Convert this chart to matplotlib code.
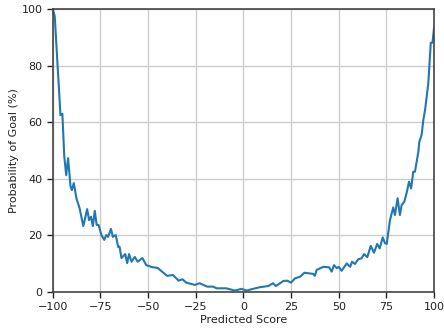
import matplotlib
matplotlib.use("Agg")
import matplotlib.pyplot as plt

# Predicted score vs. observed goal probability
score = [-100, -99, -96, -95, -94, -93, -92, -90.7, -90, -89, -87.6, -86, -84,
         -82, -81, -80, -79, -78, -77, -76, -74.5, -73, -72, -71, -69.5, -68.5,
         -67, -65.7, -65, -64, -62, -61, -60, -58.7, -57, -55.5, -53, -51, -48,
         -45, -42, -40, -37, -34, -32, -30, -25.5, -23, -19, -16, -14, -9, -4.5,
         -1, 1.7, 5, 8.7, 13, 15.6, 17, 21, 23, 25, 27, 29.7, 32, 36.6, 37.5,
         38.4, 42, 45, 46.3, 47.5, 49, 50, 51.5, 53, 54.2, 56, 57, 58.5, 60.3,
         62, 63.3, 65, 66.8, 68.5, 70.2, 71.5, 73.1, 74.3, 75.2, 76.9, 78.6,
         79.5, 80.9, 82.1, 83, 84.4, 85.6, 86.9, 88, 89.1, 90, 91.8, 92.3, 93.5,
         94.4, 95.3, 97, 98.3, 99.2, 100]
prob = [100, 97.5, 62.5, 63, 48, 41.3, 47.3, 37.2, 36, 38.5, 33, 29.7, 23.3,
        29.3, 25.4, 26.6, 23.3, 28.7, 23.7, 23.7, 20.1, 18.4, 20.1, 19.5, 22.3,
        19.5, 20.1, 15.9, 16, 12, 13.4, 10.2, 13.4, 10.7, 12.4, 10.7, 12, 9.5,
        8.8, 8.5, 6.8, 5.7, 6.0, 4.0, 4.5, 3.3, 2.5, 3.1, 1.9, 1.9, 1.3, 1.3,
        0.5, 1.1, 0.5, 1.1, 1.7, 2.1, 3.1, 2.1, 3.9, 4.0, 3.3, 4.8, 5.4, 6.8,
        6.4, 5.7, 7.8, 8.9, 8.7, 7.2, 9.5, 8.4, 8.9, 7.5, 8.9, 10.1, 8.9, 10.7,
        9.9, 11.6, 11.9, 13.4, 12.3, 16.3, 13.9, 17.0, 15.4, 19.3, 17.2, 17.0,
        25.4, 29.9, 27.2, 33.1, 27.2, 30.7, 31.9, 34.9, 39, 36.6, 42.5, 42.5,
        49.6, 53.1, 55.5, 60.8, 64.3, 73.7, 88.1, 88.1, 93.2]

xticks = [-100, -75, -50, -25, 0, 25, 50, 75, 100]
yticks = [0, 20, 40, 60, 80, 100]

plt.rcParams["font.family"] = "DejaVu Sans"
plt.rcParams["font.size"] = 8

fig = plt.figure(figsize=(4.44, 3.29), dpi=100)
ax = fig.add_axes([0.119, 0.1125, 0.8585, 0.86])

ax.plot(score, prob, color="#1f77b4", lw=1.5)

ax.set_xlim(-100, 100)
ax.set_ylim(0, 100)
ax.set_xticks(xticks)
ax.set_yticks(yticks)
ax.grid(True, color="#cccccc", lw=1)
ax.set_axisbelow(True)
for sp in ax.spines.values():
    sp.set_color("#444444")
    sp.set_linewidth(1.2)
ax.tick_params(colors="#222222", length=4, width=1, labelsize=8)

ax.set_xlabel("Predicted Score", fontsize=8, color="#222222", labelpad=2)
ax.set_ylabel("Probability of Goal (%)", fontsize=8, color="#222222", labelpad=2)

fig.savefig("out.png", dpi=100)
